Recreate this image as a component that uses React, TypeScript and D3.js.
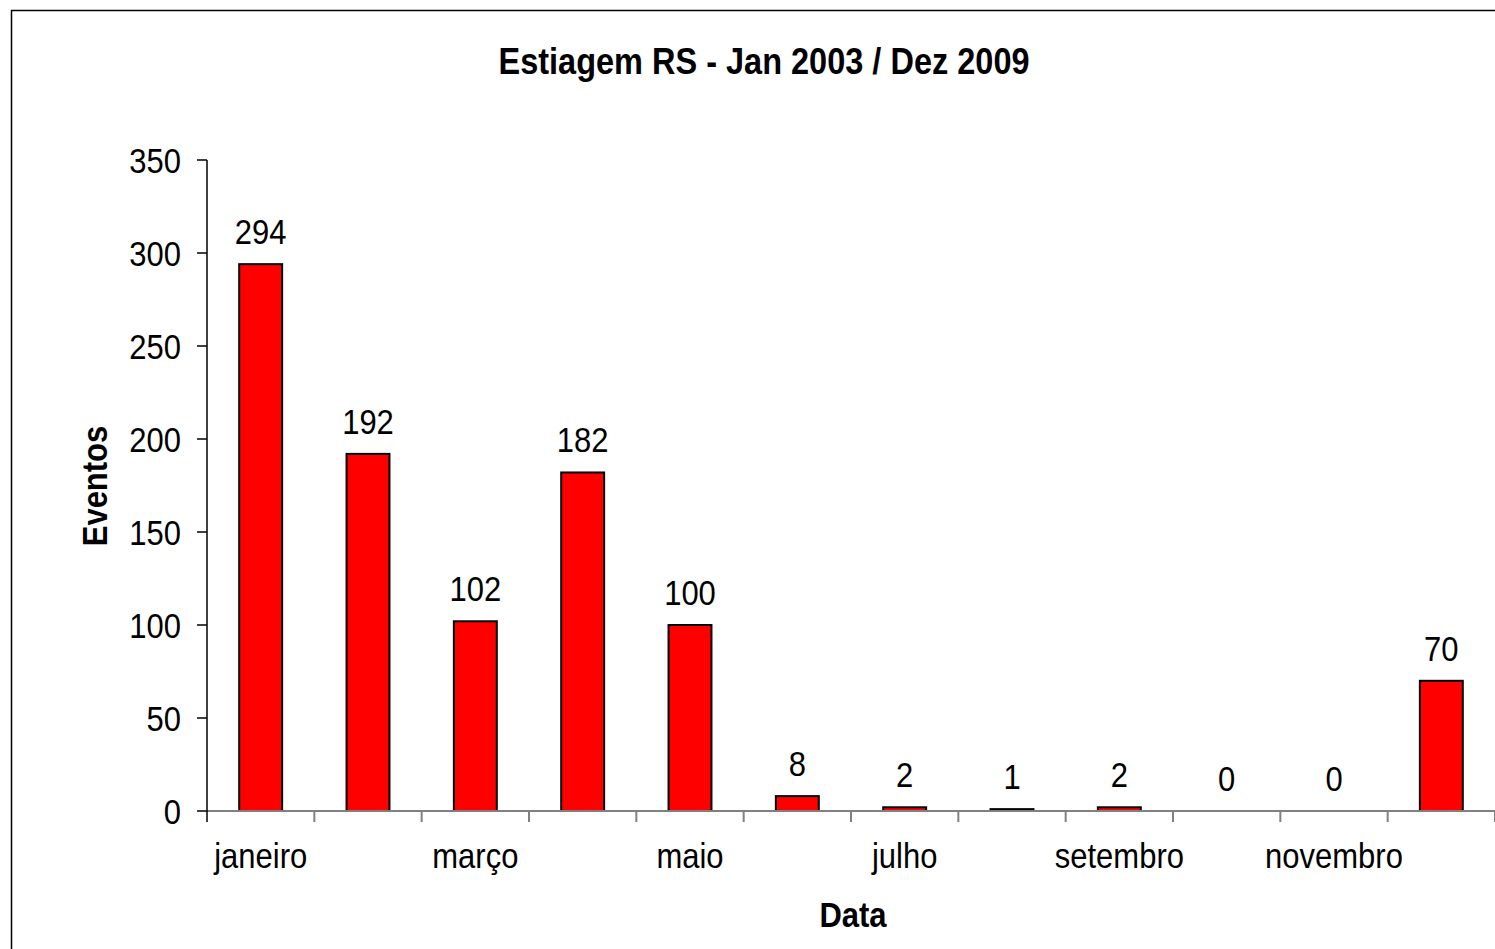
import React from "react";
import * as d3 from "d3";

const categories = ["janeiro", "fevereiro", "março", "abril", "maio", "junho", "julho", "agosto", "setembro", "outubro", "novembro", "dezembro"];
const values = [294, 192, 102, 182, 100, 8, 2, 1, 2, 0, 0, 70];
const yTicks = [0, 50, 100, 150, 200, 250, 300, 350];
const shownLabels = ["janeiro", "março", "maio", "julho", "setembro", "novembro"];

const W = 1495;
const H = 949;
const FONT = "'Liberation Sans', Arial, sans-serif";
const SY = 1.12;

function T(props: { x: number; y: number; anchor?: string; size?: number; bold?: boolean; rotate?: number; children: any }) {
  const { x, y, anchor = "middle", size = 31, bold = false, rotate = 0, children } = props;
  return (
    <text
      transform={`translate(${x},${y}) rotate(${rotate}) scale(1,${SY})`}
      textAnchor={anchor}
      fontSize={size}
      fontWeight={bold ? "bold" : "normal"}
      fill="#000"
    >
      {children}
    </text>
  );
}

export default function App() {
  const left = 207;
  const right = 1495;
  const top = 160;
  const bottom = 811;
  const x = d3.scaleBand<string>().domain(categories).range([left, right]).padding(0);
  const y = d3.scaleLinear().domain([0, 350]).range([bottom, top]);
  const bw = x.bandwidth() * 0.4;

  return (
    <svg width={W} height={H} style={{ position: "absolute", left: 0, top: 0, background: "#fff" }} fontFamily={FONT}>
      <rect x={0} y={0} width={W} height={H} fill="#fff" />
      <rect x={11.5} y={10.5} width={1530} height={980} fill="none" stroke="#000" strokeWidth={1.5} />
      <T x={764} y={74} size={32.5} bold>Estiagem RS - Jan 2003 / Dez 2009</T>

      {/* bars */}
      {categories.map((c, i) => {
        const v = values[i];
        const cx = (x(c) as number) + x.bandwidth() / 2;
        return (
          <g key={c}>
            {v > 0 && (
              <rect x={cx - bw / 2} y={y(v)} width={bw} height={bottom - y(v)} fill="#ff0000" stroke="#000" strokeWidth={2} />
            )}
            <T x={cx} y={y(v) - 20}>{v}</T>
          </g>
        );
      })}

      {/* x axis */}
      <line x1={left} x2={right} y1={bottom} y2={bottom} stroke="#808080" strokeWidth={2} />
      {categories.map((c) => (
        <line key={c} x1={(x(c) as number) + x.bandwidth()} x2={(x(c) as number) + x.bandwidth()} y1={bottom} y2={bottom + 11} stroke="#808080" strokeWidth={2} />
      ))}
      {shownLabels.map((c) => (
        <T key={c} x={(x(c) as number) + x.bandwidth() / 2} y={868}>{c}</T>
      ))}

      {/* y axis */}
      <line x1={left} x2={left} y1={top} y2={bottom + 11} stroke="#000" strokeWidth={1.5} />
      {yTicks.map((t) => (
        <g key={t}>
          <line x1={left - 10} x2={left} y1={y(t)} y2={y(t)} stroke="#000" strokeWidth={1.5} />
          <T x={181} y={y(t) + 12.5} anchor="end">{t}</T>
        </g>
      ))}

      <T x={107} y={486} bold rotate={-90}>Eventos</T>
      <T x={853} y={927} bold>Data</T>
    </svg>
  );
}
